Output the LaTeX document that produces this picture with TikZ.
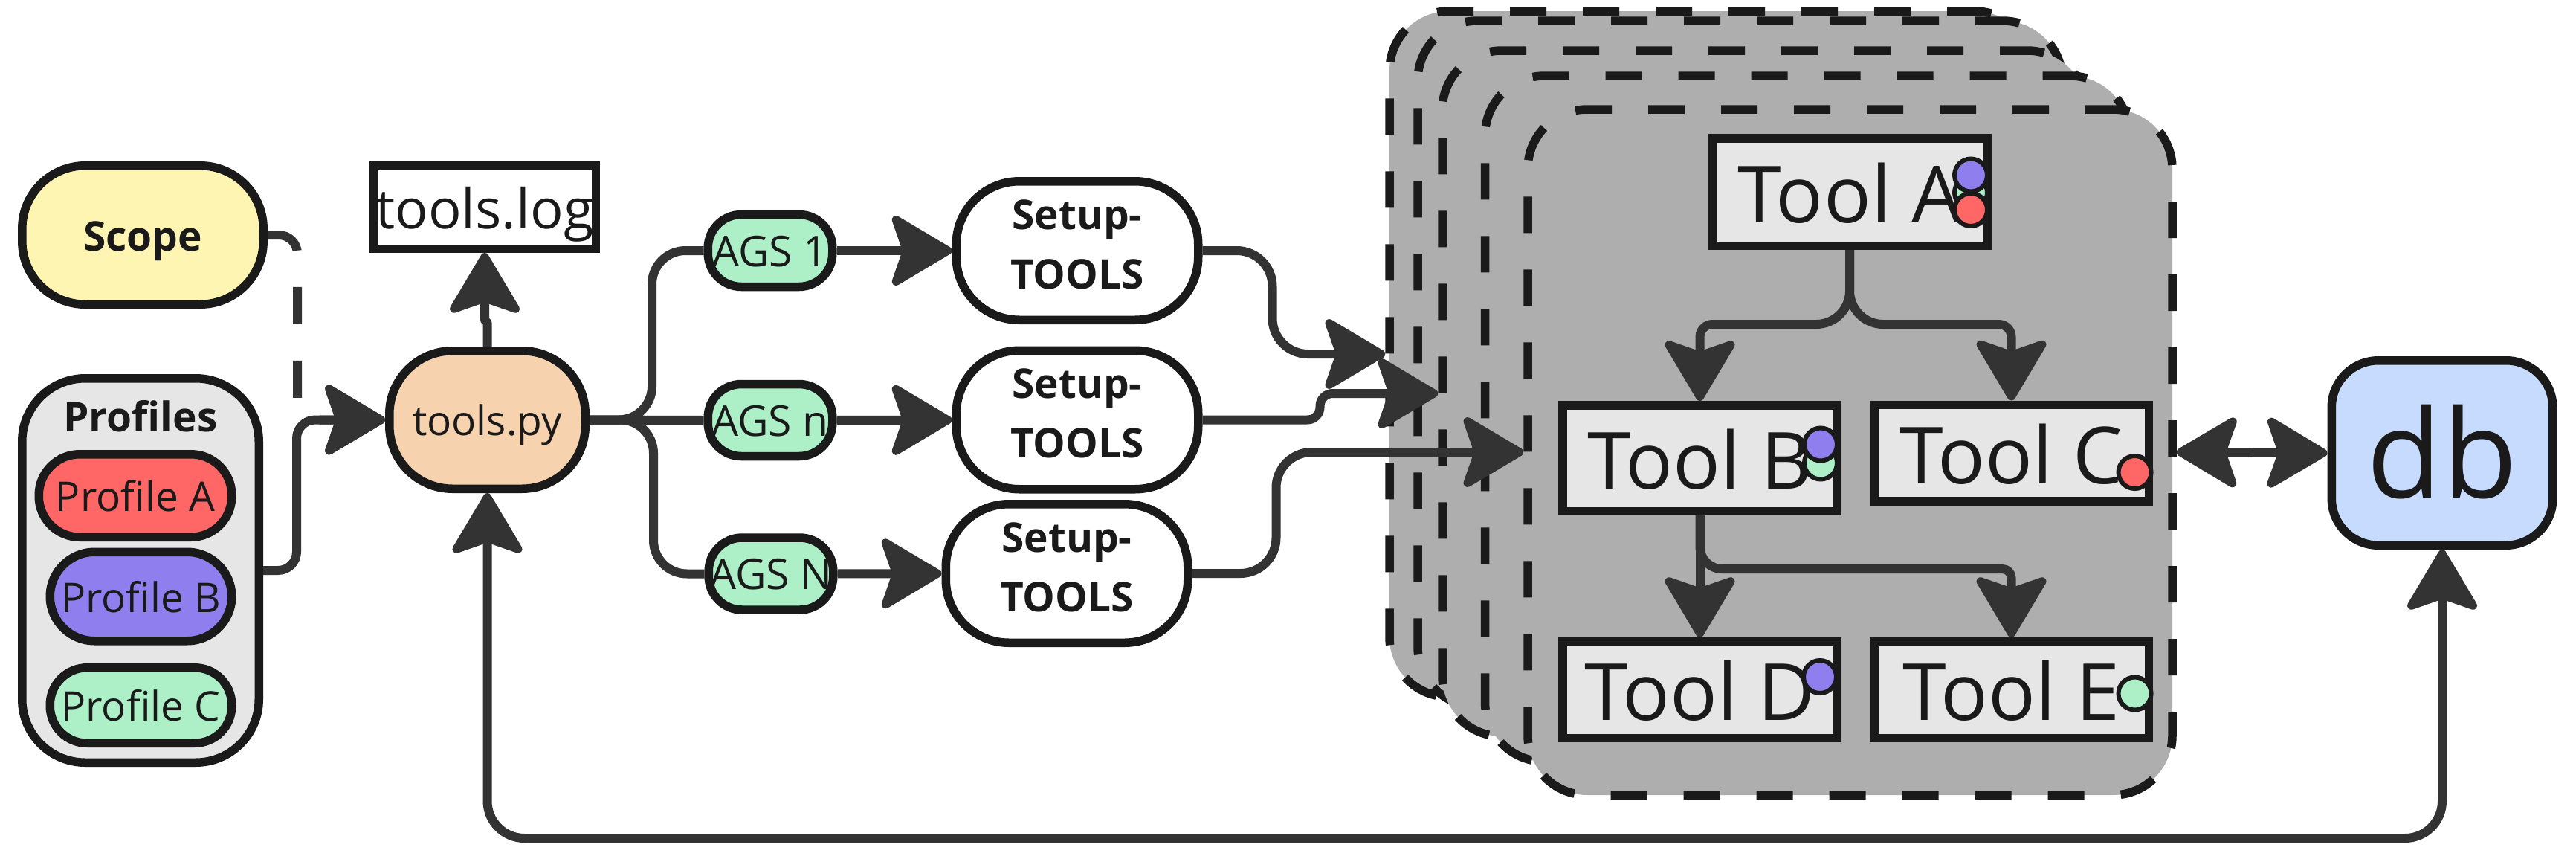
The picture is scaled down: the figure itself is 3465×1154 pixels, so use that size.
\documentclass[tikz,border=0pt]{standalone}
\usepackage{fontspec}
\setmainfont{Open Sans}
\usepackage{xcolor}
\usetikzlibrary{arrows.meta, shapes.geometric, calc}
\definecolor{inkdark}{HTML}{1A1A1A}
\definecolor{linkdark}{HTML}{333333}
\definecolor{stackgray}{HTML}{AEAEAE}
\definecolor{panelgray}{HTML}{E6E6E6}
\definecolor{scopeyellow}{HTML}{FFF5B3}
\definecolor{scriptorange}{HTML}{F6D2AE}
\definecolor{profred}{HTML}{FF6666}
\definecolor{profpurple}{HTML}{8F7EEE}
\definecolor{profgreen}{HTML}{ADF0C7}
\definecolor{dbblue}{HTML}{C6DBFD}
\newcommand{\fontmid}{\fontsize{55}{80}\selectfont}
\newcommand{\fontags}{\fontsize{57}{78}\selectfont}
\newcommand{\fontlog}{\fontsize{74}{80}\selectfont}
\newcommand{\fonttool}{\fontsize{106}{110}\selectfont}
\newcommand{\fontdb}{\fontsize{165}{170}\selectfont}

\begin{document}
\begin{tikzpicture}[
    x=1pt, y=-1pt,
    bigtip/.tip={Stealth[length=90pt, width=106pt, inset=18pt, round, line width=11pt]},
    pill/.style={rectangle, rounded corners=#1, draw=inkdark, line width=11.5pt, inner sep=0pt, text=inkdark, font=\fontmid, text height=44pt, text depth=2pt},
    stacked/.style={rectangle, rounded corners=80pt, draw=inkdark, fill=stackgray, line width=11.5pt, dash pattern=on 49pt off 49pt, dash phase=110pt, minimum width=867pt, minimum height=922pt},
    toolbox/.style={rectangle, draw=inkdark, fill=panelgray, line width=11.5pt, inner sep=0pt, minimum width=369.5pt, text=inkdark, font=\fonttool, text height=83pt, text depth=1pt},
    tooldot/.style={circle, draw=inkdark, fill=#1, line width=6pt, inner sep=0pt, minimum size=44pt},
    link/.style={draw=linkdark, line width=12pt, line join=round},
    arrow/.style={link, -{bigtip}},
    twoway/.style={link, {bigtip}-{bigtip}}
]
\useasboundingbox (0,0) rectangle (3465,1154);

% stacked copies
\node[stacked] (stackA) at (2302.5,476) {};
\node[stacked] (stackB) at (2340.5,489) {};
\node[stacked] (stackC) at (2373.5,529) {};
\node[stacked] (stackD) at (2431,563) {};
\node[stacked] (stackE) at (2488.5,608) {};

\node[toolbox, minimum height=144.5pt] (toolA) at (2488,258) {Tool A};
\node[toolbox, minimum height=142.5pt] (toolB) at (2286.5,616) {Tool B};
\node[toolbox, minimum height=129.5pt] (toolC) at (2705.5,609) {Tool C};
\node[toolbox, minimum height=129.5pt] (toolD) at (2286.5,927.5) {Tool D};
\node[toolbox, minimum height=129.5pt] (toolE) at (2705.5,927.5) {Tool E};

\node[tooldot=profgreen] (dotAc) at (2651,259) {};
\node[tooldot=profpurple] (dotAb) at (2651,235.5) {};
\node[tooldot=profred] (dotAa) at (2651,282) {};
\node[tooldot=profgreen] (dotBc) at (2449,622.5) {};
\node[tooldot=profpurple] (dotBb) at (2449,597.5) {};
\node[tooldot=profred] (dotCa) at (2871.5,635) {};
\node[tooldot=profpurple] (dotDb) at (2448,910) {};
\node[tooldot=profgreen] (dotEc) at (2871.5,932.5) {};

% left column
\node[pill=85pt, fill=scopeyellow, minimum width=324.5pt, minimum height=186.5pt, font=\fontmid\bfseries] (scope) at (192,316) {Scope};
\node[pill=85pt, fill=panelgray, minimum width=318.5pt, minimum height=516.5pt] (profiles) at (189,767) {};
\node[font=\fontmid\bfseries, text=inkdark, inner sep=0pt, text height=44pt, text depth=2pt] (proflabel) at (189,559) {Profiles};
\node[pill=55pt, fill=profred, minimum width=259.5pt, minimum height=111.5pt] (profA) at (182,666.5) {Profile A};
\node[pill=60pt, fill=profpurple, minimum width=244.5pt, minimum height=119.5pt] (profB) at (189.5,802) {Profile B};
\node[pill=50pt, fill=profgreen, minimum width=244.5pt, minimum height=101.5pt] (profC) at (189.5,948.5) {Profile C};

\node[rectangle, draw=inkdark, fill=white, line width=11.5pt, inner sep=0pt, minimum width=298.5pt, minimum height=111.5pt, text=inkdark, font=\fontlog, text height=58pt, text depth=1pt] (toolslog) at (652,278.5) {tools.log};
\node[pill=85pt, fill=scriptorange, minimum width=263.5pt, minimum height=185.5pt] (toolspy) at (655.5,564.5) {tools.py};

\node[pill=45pt, fill=profgreen, minimum width=167.5pt, minimum height=97pt, font=\fontags] (agsA) at (1036,337) {AGS 1};
\node[pill=45pt, fill=profgreen, minimum width=167.5pt, minimum height=97pt, font=\fontags] (agsB) at (1036,565) {AGS n};
\node[pill=45pt, fill=profgreen, minimum width=167.5pt, minimum height=97pt, font=\fontags] (agsC) at (1037,771.5) {AGS N};

\node[pill=85pt, fill=white, minimum width=325.5pt, minimum height=186.5pt, align=center, font=\fontmid\bfseries, text height=, text depth=] (setupA) at (1449,337) {Setup-\\TOOLS\rule[-17pt]{0pt}{0pt}};
\node[pill=85pt, fill=white, minimum width=325.5pt, minimum height=186.5pt, align=center, font=\fontmid\bfseries, text height=, text depth=] (setupB) at (1449,564.5) {Setup-\\TOOLS\rule[-17pt]{0pt}{0pt}};
\node[pill=85pt, fill=white, minimum width=325.5pt, minimum height=186.5pt, align=center, font=\fontmid\bfseries, text height=, text depth=] (setupC) at (1435,771) {Setup-\\TOOLS\rule[-17pt]{0pt}{0pt}};

\node[pill=63pt, fill=dbblue, minimum width=297.5pt, minimum height=248.5pt, font=\fontdb, text height=122pt, text depth=2pt] (db) at (3285,609) {db};

% connectors
\draw[arrow, dash pattern=on 50pt off 49pt, rounded corners=25pt] (scope.east) -- ++(40,0) |- (toolspy.west);
\draw[arrow, rounded corners=25pt] (profiles.east) -- ++(45,0) |- (toolspy.west);
\draw[arrow, rounded corners=2pt] (toolspy.north) -- ++(0,-34) -| (toolslog.south);

\draw[link, rounded corners=45pt] (toolspy.east) -- ++(84,0) |- (agsA.west);
\draw[link] (toolspy.east) -- (agsB.west);
\draw[link, rounded corners=45pt] (toolspy.east) -- ++(86,0) |- (agsC.west);

\draw[arrow] (agsA) -- (setupA);
\draw[arrow] (agsB) -- (setupB);
\draw[arrow] (agsC) -- (setupC);

\draw[arrow, rounded corners=48pt] (setupA.east) -- ++(94,0) |- (stackA.west);
\draw[arrow, rounded corners=17pt] (setupB.east) -- ++(158,0) |- (stackC.west);
\draw[arrow, rounded corners=48pt] (setupC.east) -- ++(113,0) |- (stackE.west);

\draw[arrow, rounded corners=45pt] (toolA.south) -- ++(0,100) [rounded corners=17pt] -| (toolB.north);
\draw[arrow, rounded corners=45pt] (toolA.south) -- ++(0,100) [rounded corners=17pt] -| (toolC.north);
\draw[arrow] (toolB.south) -- (toolD.north);
\draw[arrow, rounded corners=30pt] (toolB.south) -- ++(0,72) [rounded corners=12pt] -| (toolE.north);

\draw[twoway] (stackE.east) -- (db.west);
\draw[twoway, rounded corners=50pt] (toolspy.south) -- ++(0,464) -| (db.south);

\end{tikzpicture}
\end{document}
